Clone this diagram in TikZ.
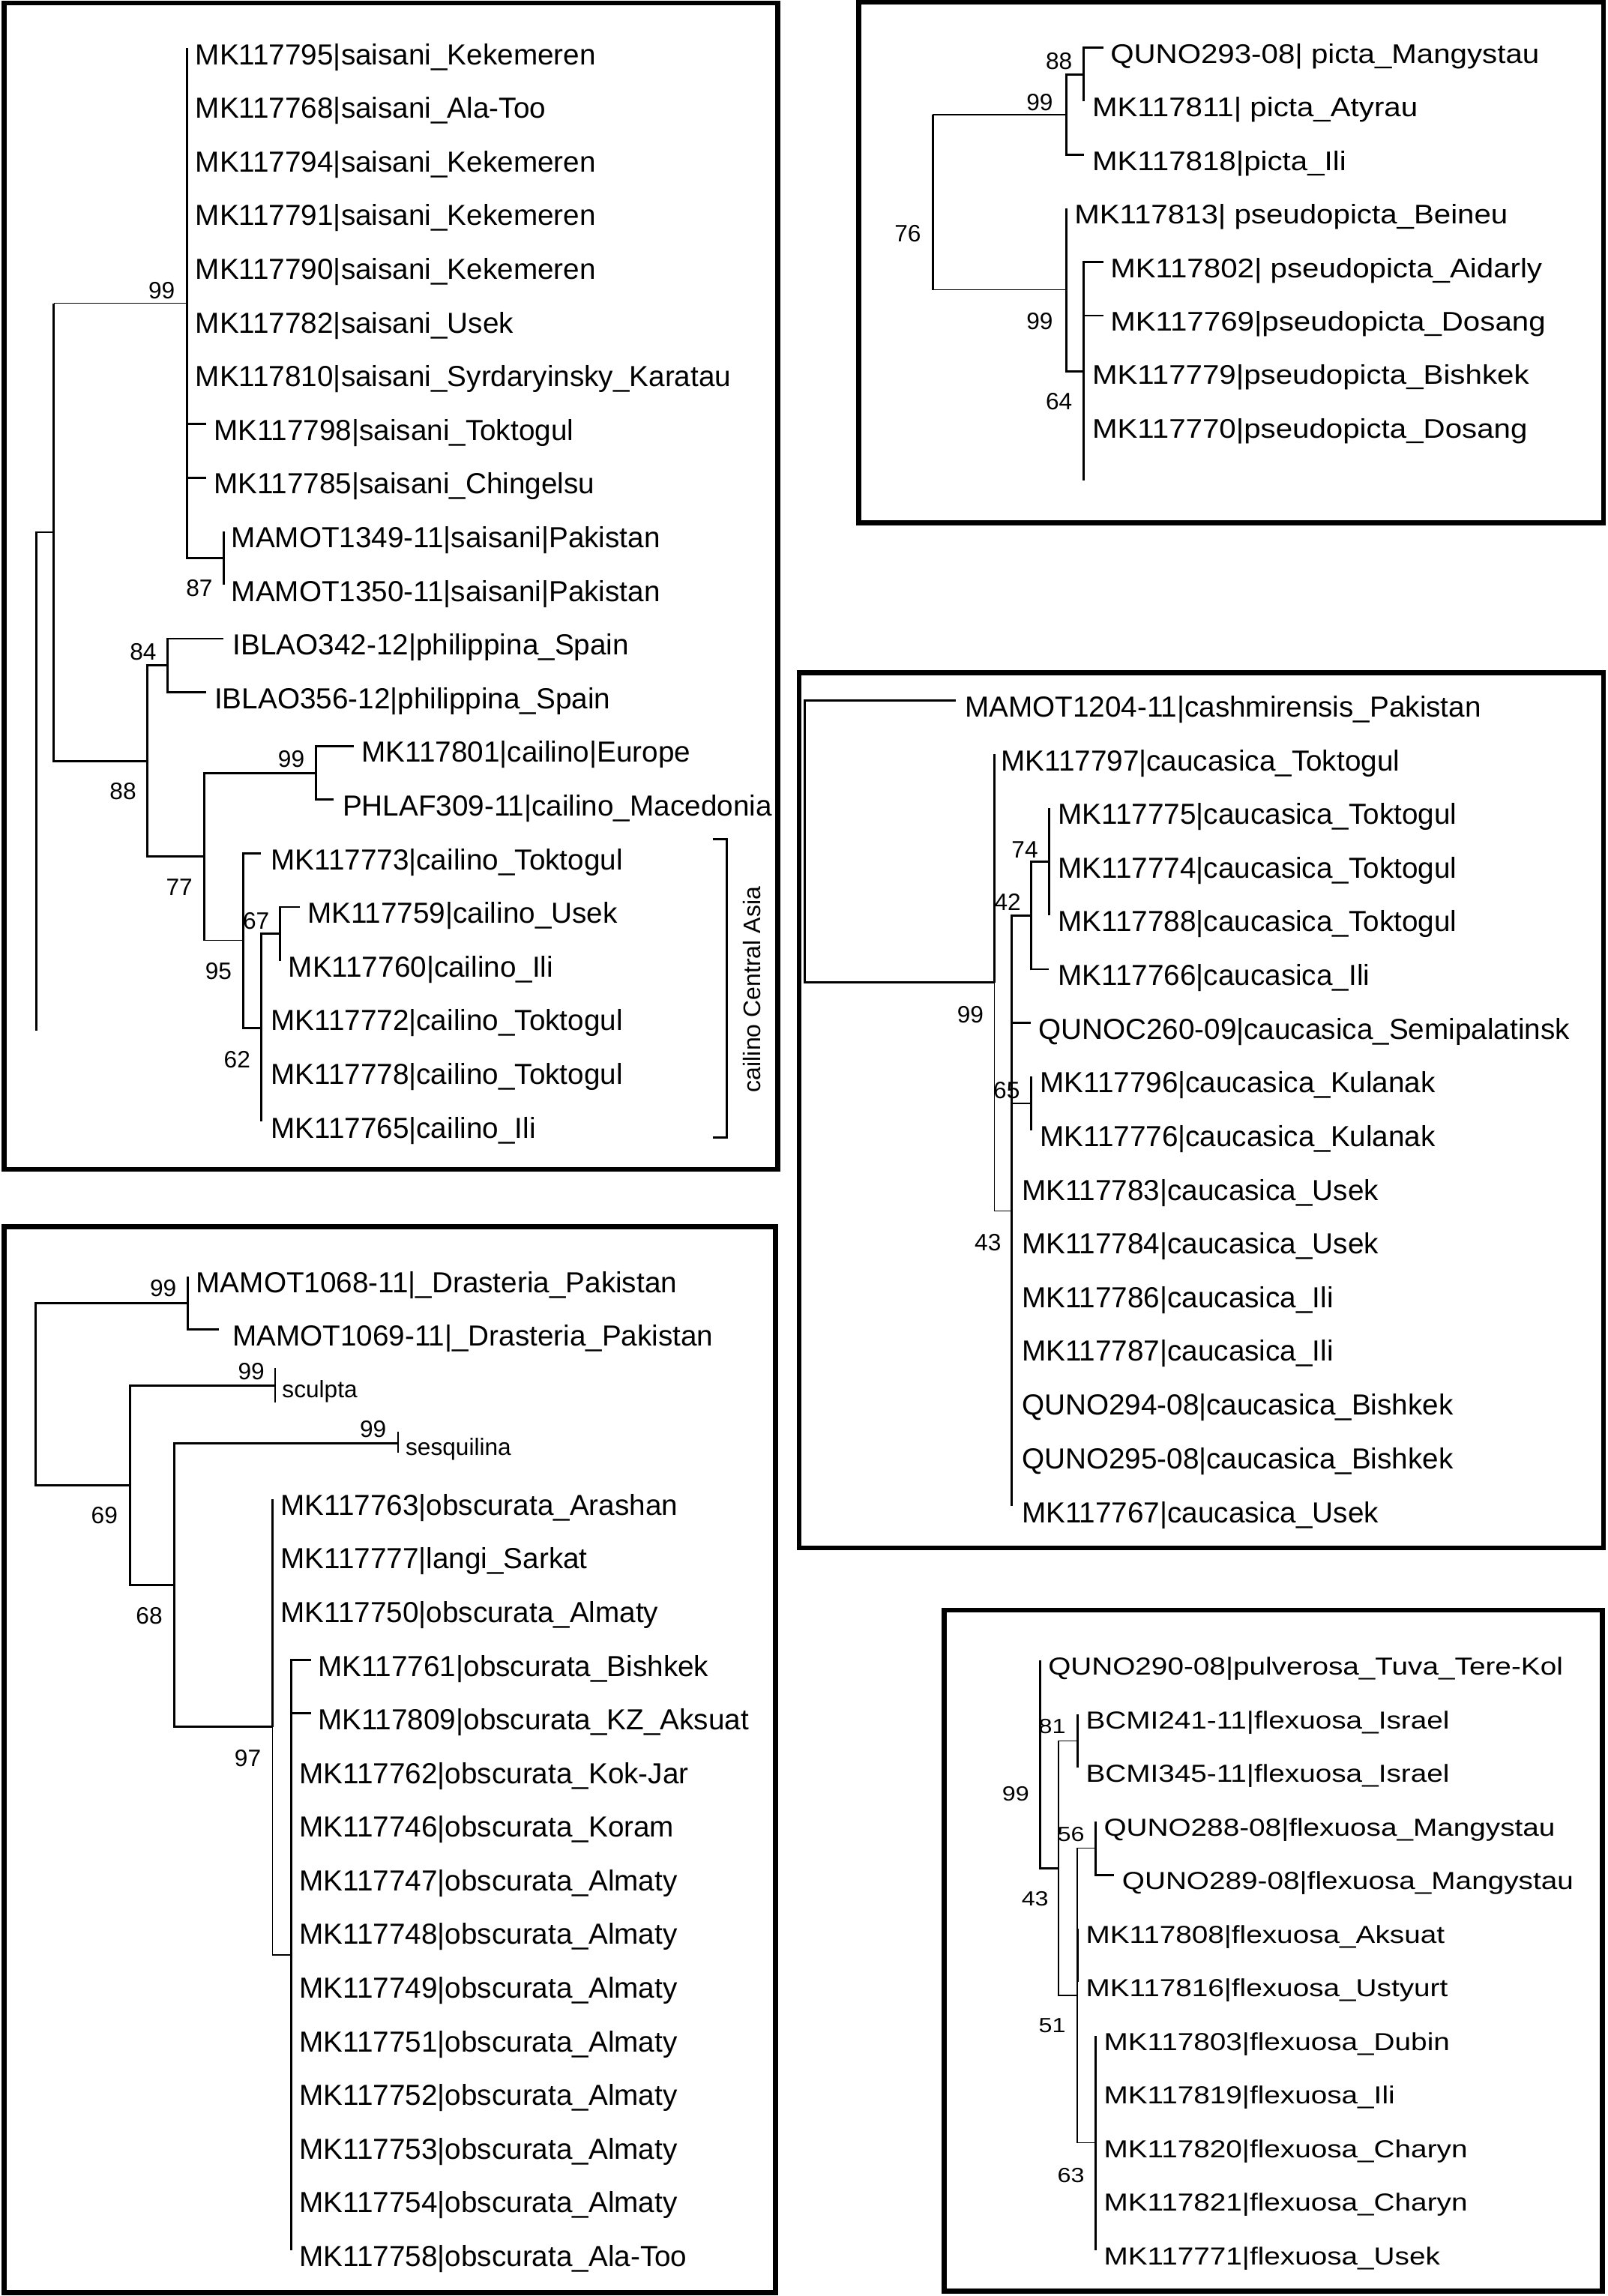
\documentclass[tikz,border=0pt]{standalone}
\usepackage{fontspec}
\setmainfont{Liberation Sans}
\newfontfamily\widefontA[FakeStretch=1.12]{Liberation Sans}
\newfontfamily\widefontB[FakeStretch=1.18]{Liberation Sans}
\tikzset{
  br/.style={line width=0.75pt},
  thn/.style={line width=0.35pt},
  frame/.style={line width=1.7pt},
  lab/.style={font=\fontsize{9.9}{12}\selectfont, inner sep=0pt, anchor=base west},
  labb/.style={font=\widefontA\fontsize{9.2}{12}\selectfont, inner sep=0pt, anchor=base west},
  labc/.style={font=\widefontB\fontsize{8.4}{12}\selectfont, inner sep=0pt, anchor=base west},
  sm/.style={font=\fontsize{8.1}{10}\selectfont, inner sep=0pt, anchor=base west},
  num/.style={font=\fontsize{8.1}{10}\selectfont, inner sep=0pt},
  numc/.style={font=\widefontB\fontsize{7.0}{10}\selectfont, inner sep=0pt},
}
\newcommand\leafnode[5]{\coordinate (#1) at (#2,#3); \node[lab] (#1t) at ({#4-1.3},{#3+11.1}) {#5};}
\newcommand\leafnodeb[5]{\coordinate (#1) at (#2,#3); \node[labb] (#1t) at ({#4-1.3},{#3+10.6}) {#5};}
\newcommand\leafnodec[5]{\coordinate (#1) at (#2,#3); \node[labc] (#1t) at ({#4-1.3},{#3+10.0}) {#5};}
\begin{document}
\begin{tikzpicture}[x=0.5pt,y=-0.5pt]
\fill[white] (0,0) rectangle (1098,1568);
\useasboundingbox (0,0) rectangle (1098,1568);

% ================= Panel 1 =================
\draw[frame] (2.7,2.1) rectangle (531,798.5);
\leafnode{a0}{127.6}{33.0}{134.4}{MK117795|saisani\_Kekemeren}
\leafnode{a1}{127.6}{69.65}{134.4}{MK117768|saisani\_Ala-Too}
\leafnode{a2}{127.6}{106.3}{134.4}{MK117794|saisani\_Kekemeren}
\leafnode{a3}{127.6}{142.95}{134.4}{MK117791|saisani\_Kekemeren}
\leafnode{a4}{127.6}{179.6}{134.4}{MK117790|saisani\_Kekemeren}
\leafnode{a5}{127.6}{216.25}{134.4}{MK117782|saisani\_Usek}
\leafnode{a6}{127.6}{252.9}{134.4}{MK117810|saisani\_Syrdaryinsky\_Karatau}
\leafnode{a7}{140.6}{289.55}{146.8}{MK117798|saisani\_Toktogul}
\leafnode{a8}{140.6}{326.2}{146.8}{MK117785|saisani\_Chingelsu}
\leafnode{a9}{152.6}{362.85}{159}{MAMOT1349-11|saisani|Pakistan}
\leafnode{a10}{152.6}{399.5}{159}{MAMOT1350-11|saisani|Pakistan}
\leafnode{a11}{152.6}{436.15}{160}{IBLAO342-12|philippina\_Spain}
\leafnode{a12}{140.6}{472.8}{147.4}{IBLAO356-12|philippina\_Spain}
\leafnode{a13}{241.7}{509.45}{247.9}{MK117801|cailino|Europe}
\leafnode{a14}{228}{546.1}{234.9}{PHLAF309-11|cailino\_Macedonia}
\leafnode{a15}{178.3}{582.75}{185.9}{MK117773|cailino\_Toktogul}
\leafnode{a16}{204.7}{619.4}{210.9}{MK117759|cailino\_Usek}
\leafnode{a17}{191.3}{656.05}{197.9}{MK117760|cailino\_Ili}
\leafnode{a18}{178.3}{692.7}{185.9}{MK117772|cailino\_Toktogul}
\leafnode{a19}{178.3}{729.35}{185.9}{MK117778|cailino\_Toktogul}
\leafnode{a20}{178.3}{766.0}{185.9}{MK117765|cailino\_Ili}

\coordinate (b87) at (152.6,381.2);
\coordinate (b99) at (127.6,207.1);
\coordinate (b84) at (114.2,454.5);
\coordinate (b99e) at (216,527.8);
\coordinate (b67) at (191.3,637.7);
\coordinate (b62) at (178.3,701.9);
\coordinate (b95) at (166.3,642.3);
\coordinate (b77) at (139.6,585.05);
\coordinate (b88) at (100.5,519.8);
\coordinate (bA) at (36.7,363.45);
\coordinate (broot) at (24.7,533.7);
\coordinate (bph) at (24.7,704);

\foreach \c in {a0,a1,a2,a3,a4,a5,a6,a7,a8,b87} \draw[br] (b99) |- (\c);
\foreach \c in {a9,a10} \draw[br] (b87) |- (\c);
\draw[br] (bA) -- (bA |- b99);
\draw[thn] (bA |- b99) -- (b99);
\draw[br] (bA) |- (b88);
\draw[br] (broot) |- (bA);
\draw[br] (broot) -- (bph);
\draw[br] (b88) |- (b84);
\draw[br] (b88) |- (b77);
\foreach \c in {a11,a12} \draw[br] (b84) |- (\c);
\draw[br] (b77) |- (b99e);
\draw[br] (b77) -- (b77 |- b95);
\draw[thn] (b77 |- b95) -- (b95);
\foreach \c in {a13,a14} \draw[br] (b99e) |- (\c);
\foreach \c in {a15,b62} \draw[br] (b95) |- (\c);
\foreach \c in {b67,a18,a19,a20} \draw[br] (b62) |- (\c);
\foreach \c in {a16,a17} \draw[br] (b67) |- (\c);

\node[num] (s1a) at (110.4,198.6) {99};
\node[num] (s1b) at (136.1,401.9) {87};
\node[num] (s1c) at (97.7,445.2) {84};
\node[num] (s1d) at (84,540.6) {88};
\node[num] (s1e) at (198.9,518.4) {99};
\node[num] (s1f) at (122.4,605.9) {77};
\node[num] (s1g) at (174.9,628.9) {67};
\node[num] (s1h) at (149.2,663.4) {95};
\node[num] (s1i) at (161.9,723.5) {62};

\coordinate (ct) at (486.9,573.3);
\coordinate (cb) at (486.9,777);
\draw[br] (ct) -- ++(9.3,0) |- (cb);
\node[rotate=90, font=\fontsize{8.2}{10}\selectfont, inner sep=0pt] (cca) at (513.3,675.7) {cailino Central Asia};

% ================= Panel 2 =================
\draw[frame] (586.4,1.4) rectangle (1095,356.9);
\leafnodeb{p0}{753.7}{32.6}{759.2}{QUNO293-08| picta\_Mangystau}
\leafnodeb{p1}{740.2}{69.2}{746.8}{MK117811| picta\_Atyrau}
\leafnodeb{p2}{740.2}{105.7}{746.8}{MK117818|picta\_Ili}
\leafnodeb{p3}{728.1}{142.3}{734.6}{MK117813| pseudopicta\_Beineu}
\leafnodeb{p4}{753.7}{178.9}{759.2}{MK117802| pseudopicta\_Aidarly}
\leafnodeb{p5}{753.7}{215.5}{759.2}{MK117769|pseudopicta\_Dosang}
\leafnodeb{p6}{740.2}{252.0}{746.8}{MK117779|pseudopicta\_Bishkek}
\leafnodeb{p7}{740.2}{288.6}{746.8}{MK117770|pseudopicta\_Dosang}
\coordinate (pph) at (740.2,328);
\coordinate (c88) at (740.2,50.9);
\coordinate (c99a) at (728.1,78.3);
\coordinate (c64) at (740.2,253.45);
\coordinate (c99b) at (728.1,197.9);
\coordinate (c76) at (637,138.1);

\foreach \c in {p0,p1} \draw[br] (c88) |- (\c);
\foreach \c in {c88,p2} \draw[br] (c99a) |- (\c);
\foreach \c in {p4,p5,p6,p7,pph} \draw[br] (c64) |- (\c);
\foreach \c in {p3,c64} \draw[br] (c99b) |- (\c);
\draw[br] (c76 |- c99a) -- (c76 |- c99b);
\draw[thn] (c76 |- c99a) -- (c99a);
\draw[thn] (c76 |- c99b) -- (c99b);

\node[num] (s2a) at (723.2,41.6) {88};
\node[num] (s2b) at (710,69.7) {99};
\node[num] (s2c) at (619.9,159.3) {76};
\node[num] (s2d) at (710,219.5) {99};
\node[num] (s2e) at (723.2,274.3) {64};

% ================= Panel 3 =================
\draw[frame] (545.7,459.5) rectangle (1094.9,1057.1);
\leafnode{q0}{652.7}{478.5}{659.8}{MAMOT1204-11|cashmirensis\_Pakistan}
\leafnode{q1}{679.2}{515.2}{684.5}{MK117797|caucasica\_Toktogul}
\leafnode{q2}{716.4}{551.8}{723.5}{MK117775|caucasica\_Toktogul}
\leafnode{q3}{716.4}{588.5}{723.5}{MK117774|caucasica\_Toktogul}
\leafnode{q4}{716.4}{625.2}{723.5}{MK117788|caucasica\_Toktogul}
\leafnode{q5}{716.4}{661.9}{723.5}{MK117766|caucasica\_Ili}
\leafnode{q6}{704}{698.5}{710}{QUNOC260-09|caucasica\_Semipalatinsk}
\leafnode{q7}{704}{735.2}{711.1}{MK117796|caucasica\_Kulanak}
\leafnode{q8}{704}{771.9}{711.1}{MK117776|caucasica\_Kulanak}
\leafnode{q9}{690.9}{808.5}{698.7}{MK117783|caucasica\_Usek}
\leafnode{q10}{690.9}{845.2}{698.7}{MK117784|caucasica\_Usek}
\leafnode{q11}{690.9}{881.9}{698.7}{MK117786|caucasica\_Ili}
\leafnode{q12}{690.9}{918.5}{698.7}{MK117787|caucasica\_Ili}
\leafnode{q13}{690.9}{955.2}{698.7}{QUNO294-08|caucasica\_Bishkek}
\leafnode{q14}{690.9}{991.9}{698.7}{QUNO295-08|caucasica\_Bishkek}
\leafnode{q15}{690.9}{1028.6}{698.7}{MK117767|caucasica\_Usek}
\coordinate (d74) at (716.4,588.5);
\coordinate (d42) at (704,625.2);
\coordinate (d65) at (704,753.55);
\coordinate (d43) at (690.9,826.9);
\coordinate (d99) at (679.2,671.05);
\coordinate (d0) at (549.3,574.8);

\foreach \c in {q2,q3,q4} \draw[br] (d74) |- (\c);
\foreach \c in {d74,q5} \draw[br] (d42) |- (\c);
\foreach \c in {q7,q8} \draw[br] (d65) |- (\c);
\foreach \c in {d42,q6,d65,q9,q10,q11,q12,q13,q14,q15} \draw[br] (d43) |- (\c);
\draw[br] (d99) |- (q1);
\draw[thn] (d99) |- (d43);
\foreach \c in {q0,d99} \draw[br] (d0) |- (\c);

\node[num] (s3a) at (699.8,580.1) {74};
\node[num] (s3b) at (688.1,616.3) {42};
\node[num] (s3c) at (662.6,692.8) {99};
\node[num] (s3d) at (687.4,744.7) {65};
\node[num] (s3e) at (674.6,848.3) {43};

% ================= Panel 4 =================
\draw[frame] (2.7,837.9) rectangle (529.6,1565.6);
\leafnode{r0}{128.1}{871.6}{134.9}{MAMOT1068-11|\_Drasteria\_Pakistan}
\leafnode{r1}{149.5}{907.9}{159.7}{MAMOT1069-11|\_Drasteria\_Pakistan}
\coordinate (rs) at (187.9,946.1);
\node[sm] (rst) at (192.3,954.4) {sculpta};
\coordinate (rq) at (271.8,985.6);
\node[sm] (rqt) at (276.6,993.9) {sesquilina};
\leafnode{r4}{186.2}{1023.7}{192.6}{MK117763|obscurata\_Arashan}
\leafnode{r5}{186.2}{1060.3}{192.6}{MK117777|langi\_Sarkat}
\leafnode{r6}{186.2}{1097.0}{192.6}{MK117750|obscurata\_Almaty}
\leafnode{r7}{212.3}{1133.6}{218.1}{MK117761|obscurata\_Bishkek}
\leafnode{r8}{212.3}{1170.2}{218.1}{MK117809|obscurata\_KZ\_Aksuat}
\leafnode{r9}{198.7}{1206.9}{205.5}{MK117762|obscurata\_Kok-Jar}
\leafnode{r10}{198.7}{1243.5}{205.5}{MK117746|obscurata\_Koram}
\leafnode{r11}{198.7}{1280.1}{205.5}{MK117747|obscurata\_Almaty}
\leafnode{r12}{198.7}{1316.7}{205.5}{MK117748|obscurata\_Almaty}
\leafnode{r13}{198.7}{1353.4}{205.5}{MK117749|obscurata\_Almaty}
\leafnode{r14}{198.7}{1390.0}{205.5}{MK117751|obscurata\_Almaty}
\leafnode{r15}{198.7}{1426.6}{205.5}{MK117752|obscurata\_Almaty}
\leafnode{r16}{198.7}{1463.3}{205.5}{MK117753|obscurata\_Almaty}
\leafnode{r17}{198.7}{1499.9}{205.5}{MK117754|obscurata\_Almaty}
\leafnode{r18}{198.7}{1536.5}{205.5}{MK117758|obscurata\_Ala-Too}
\coordinate (e99) at (128.1,889.75);
\coordinate (eIn) at (198.7,1335.05);
\coordinate (e97) at (186.2,1179.4);
\coordinate (e68) at (118.9,1082.5);
\coordinate (e69) at (89,1014.3);
\coordinate (e0) at (24.5,952);

\foreach \c in {r0,r1} \draw[br] (e99) |- (\c);
\foreach \c in {r7,r8,r9,r10,r11,r12,r13,r14,r15,r16,r17,r18} \draw[br] (eIn) |- (\c);
\foreach \c in {r4,r5,r6} \draw[br] (e97) |- (\c);
\draw[thn] (e97) |- (eIn);
\foreach \c in {rq,e97} \draw[br] (e68) |- (\c);
\foreach \c in {rs,e68} \draw[br] (e69) |- (\c);
\foreach \c in {e99,e69} \draw[br] (e0) |- (\c);
\draw[thn] (rs) ++(0,-11.7) -- ++(0,23.5);
\draw[thn] (rq) ++(0,-7.7) -- ++(0,14.1);

\node[num] (s4a) at (111.4,879.6) {99};
\node[num] (s4b) at (171.6,936.7) {99};
\node[num] (s4c) at (254.8,976) {99};
\node[num] (s4d) at (71.3,1034.8) {69};
\node[num] (s4e) at (101.9,1103.7) {68};
\node[num] (s4f) at (169.2,1200.5) {97};

% ================= Panel 5 =================
\draw[frame] (644.9,1099.6) rectangle (1094.3,1564.6);
\leafnodec{t0}{710.3}{1134.0}{716.7}{QUNO290-08|pulverosa\_Tuva\_Tere-Kol}
\leafnodec{t1}{735.7}{1170.6}{742.4}{BCMI241-11|flexuosa\_Israel}
\leafnodec{t2}{735.7}{1207.2}{742.4}{BCMI345-11|flexuosa\_Israel}
\leafnodec{t3}{748.2}{1243.8}{754.7}{QUNO288-08|flexuosa\_Mangystau}
\leafnodec{t4}{760.8}{1280.4}{767.2}{QUNO289-08|flexuosa\_Mangystau}
\leafnodec{t5}{735.7}{1317.0}{742.4}{MK117808|flexuosa\_Aksuat}
\leafnodec{t6}{735.7}{1353.6}{742.4}{MK117816|flexuosa\_Ustyurt}
\leafnodec{t7}{748.2}{1390.2}{754.7}{MK117803|flexuosa\_Dubin}
\leafnodec{t8}{748.2}{1426.8}{754.7}{MK117819|flexuosa\_Ili}
\leafnodec{t9}{748.2}{1463.4}{754.7}{MK117820|flexuosa\_Charyn}
\leafnodec{t10}{748.2}{1500.0}{754.7}{MK117821|flexuosa\_Charyn}
\leafnodec{t11}{748.2}{1536.6}{754.7}{MK117771|flexuosa\_Usek}
\coordinate (f81) at (735.7,1188.9);
\coordinate (f56) at (748.2,1262.1);
\coordinate (f63) at (748.2,1463.4);
\coordinate (f51) at (735.7,1362.75);
\coordinate (f43) at (722.8,1275.8);
\coordinate (f0) at (710.3,1204.9);

\foreach \c in {t0,f43} \draw[br] (f0) |- (\c);
\foreach \c in {f81,f51} \draw[thn] (f43) |- (\c);
\foreach \c in {t1,t2} \draw[br] (f81) |- (\c);
\foreach \c in {f56,t5,t6,f63} \draw[thn] (f51) |- (\c);
\draw[br] (t5) -- (t6);
\foreach \c in {t3,t4} \draw[br] (f56) |- (\c);
\foreach \c in {t7,t8,t9,t10,t11} \draw[br] (f63) |- (\c);

\node[numc] (s5a) at (693.6,1224.9) {99};
\node[numc] (s5b) at (718.5,1179.2) {81};
\node[numc] (s5c) at (706.8,1296.5) {43};
\node[numc] (s5d) at (731.3,1252.9) {56};
\node[numc] (s5e) at (718.5,1383.3) {51};
\node[numc] (s5f) at (731.3,1485.4) {63};
\end{tikzpicture}
\end{document}
